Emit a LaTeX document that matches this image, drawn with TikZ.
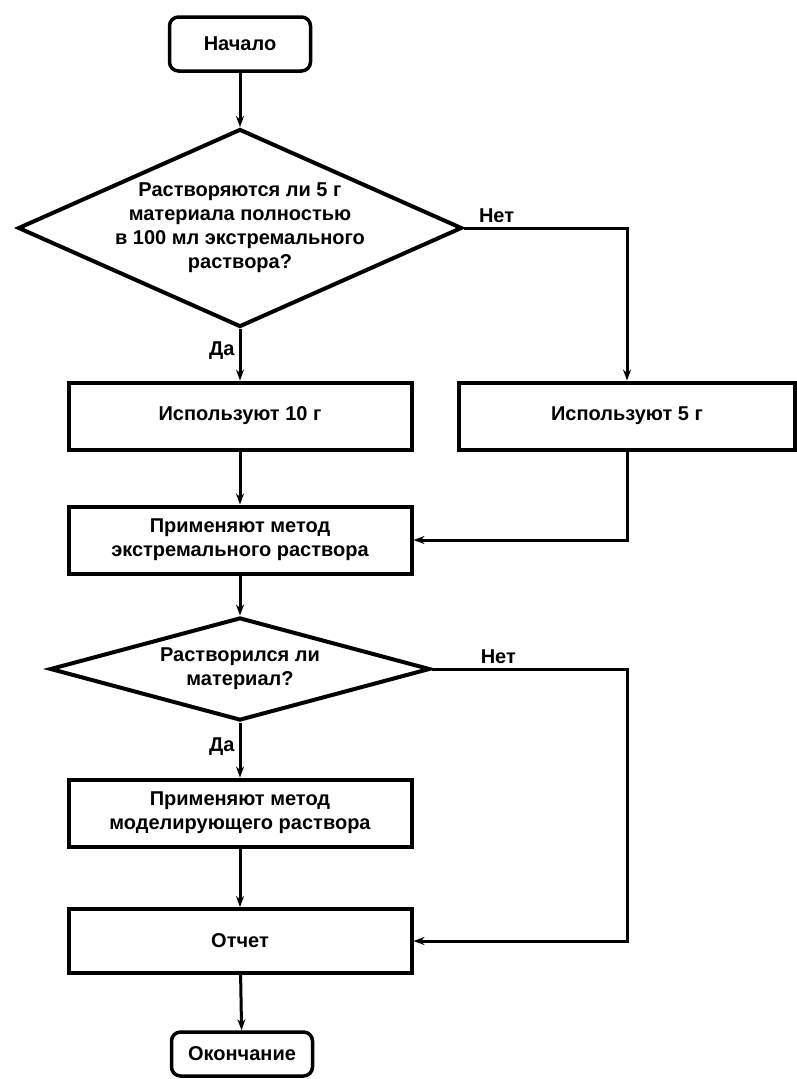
\documentclass[tikz,border=0pt]{standalone}
\usepackage{fontspec}
\setmainfont{Liberation Sans}
\usetikzlibrary{shapes.geometric}
\usetikzlibrary{arrows.meta}

\tikzset{
  block/.style={draw, line width=4pt, minimum width=343pt, minimum height=67pt, align=center, inner sep=0pt},
  terminal/.style={draw, line width=3.5pt, rounded corners=9pt, minimum width=141pt, minimum height=54pt, inner sep=0pt},
  decision/.style={draw, diamond, line width=4pt, inner sep=0pt},
  flow/.style={line width=3pt, -{Stealth[length=11pt,width=8pt]}},
  answer/.style={inner sep=4pt}
}

\begin{document}
\begin{tikzpicture}[x=1pt, y=1pt, font=\bfseries\fontsize{20}{24}\selectfont]
  \useasboundingbox (0,0) rectangle (797,-1079);

  \node[terminal] (start) at (240,-44) {Начало};
  \node[decision, minimum width=444pt, minimum height=198pt] (q1) at (240,-228) {};
  \node[align=center] at (q1) {Растворяются ли 5 г\\материала полностью\\в 100 мл экстремального\\раствора?};
  \node[block] (r10) at (240,-416) {Используют 10 г};
  \node[block, minimum width=336pt] (r5) at (627,-416) {Используют 5 г};
  \node[block] (ext) at (240,-540) {Применяют метод\\экстремального раствора};
  \node[decision, minimum width=380pt, minimum height=103pt] (q2) at (240,-669) {};
  \node[align=center] at (q2) {Растворился ли\\материал?};
  \node[block] (mod) at (240,-813) {Применяют метод\\моделирующего раствора};
  \node[block, minimum height=64pt] (rep) at (240,-941) {Отчет};
  \node[terminal, minimum height=44pt] (fin) at (242,-1054) {Окончание};

  \draw[flow] (start) -- (q1);
  \draw[flow] (q1) -- node[answer, pos=0.42, left] {Да} (r10);
  \draw[flow] (q1.east) -| node[answer, pos=0.1, above] {Нет} (r5.north);
  \draw[flow] (r10) -- (ext);
  \draw[flow] (r5.south) |- (ext.east);
  \draw[flow] (ext) -- (q2);
  \draw[flow] (q2) -- node[answer, pos=0.43, left] {Да} (mod);
  \draw[flow] (q2.east) -| node[answer, pos=0.17, above] {Нет} (rep.east -| r5.south) -- (rep.east);
  \draw[flow] (mod) -- (rep);
  \draw[flow] (rep) -- (fin);
\end{tikzpicture}
\end{document}
